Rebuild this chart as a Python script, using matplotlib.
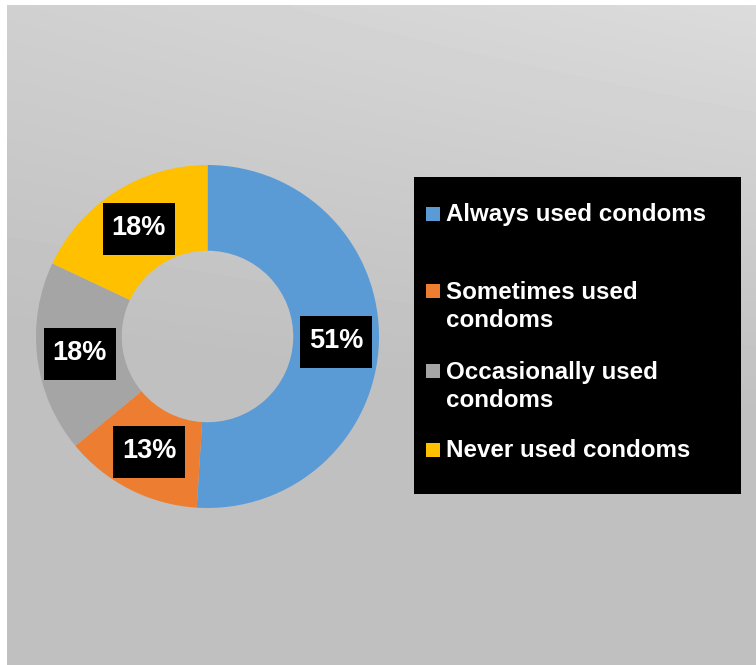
import numpy as np
import matplotlib
matplotlib.use('Agg')
import matplotlib.pyplot as plt
from matplotlib.patches import Rectangle

plt.rcParams['font.family'] = ['Liberation Sans', 'DejaVu Sans']

# данные
categories = ['Always used condoms', 'Sometimes used\ncondoms',
              'Occasionally used\ncondoms', 'Never used condoms']
shares = [51, 13, 18, 18]
colors = ['#5B9BD5', '#ED7D31', '#A5A5A5', '#FFC000']

W, H = 756, 665
fig = plt.figure(figsize=(W / 100, H / 100), dpi=100, facecolor='white')

# серый градиентный фон
bg = fig.add_axes([7 / W, 0, 1 - 7 / W, 1 - 5 / H])
yy, xx = np.mgrid[0:1:200j, 0:1:200j]
grad = np.clip(0.815 - 0.13 * yy + 0.045 * xx * (1 - yy), 0.753, 1)
bg.imshow(grad, cmap='gray', vmin=0, vmax=1, aspect='auto',
          extent=[0, 1, 0, 1], origin='upper', interpolation='bilinear')
bg.axis('off')

# кольцевая диаграмма
cx, cy, r = 207.5, 336.5, 171.5
ax = fig.add_axes([(cx - r) / W, (H - cy - r) / H, 2 * r / W, 2 * r / H])
wedges, texts, autotexts = ax.pie(
    shares, colors=colors, startangle=90, counterclock=False,
    wedgeprops=dict(width=0.5, linewidth=0), autopct='%d%%', pctdistance=0.75,
    textprops=dict(color='white', fontsize=19.5, fontweight='bold'))
ax.set_xlim(-1, 1)
ax.set_ylim(-1, 1)
ax.axis('off')

# чёрные подложки под подписями
fig.canvas.draw()
inv = ax.transAxes.inverted()
for t in autotexts:
    bb = t.get_window_extent()
    mx, my = (bb.x0 + bb.x1) / 2, (bb.y0 + bb.y1) / 2
    p0 = inv.transform((mx - 36, my - 27))
    p1 = inv.transform((mx + 36, my + 25))
    ax.add_patch(Rectangle(p0, p1[0] - p0[0], p1[1] - p0[1], transform=ax.transAxes,
                           facecolor='black', edgecolor='none', zorder=2.5))
    t.set_zorder(3)

# легенда вручную
fig.patches.append(Rectangle((414 / W, 1 - 494 / H), (741 - 414) / W, (494 - 177) / H,
                             transform=fig.transFigure, facecolor='black',
                             edgecolor='none', zorder=1))
baselines = [221, 298, 378, 457]
line_gap = 29
for lab, col, y in zip(categories, colors, baselines):
    fig.patches.append(Rectangle((426 / W, 1 - y / H), 14 / W, 14 / H,
                                 transform=fig.transFigure, facecolor=col,
                                 edgecolor='none', zorder=2))
    # baseline у matplotlib берётся по последней строке
    y_last = y + line_gap * lab.count('\n')
    fig.text(446 / W, 1 - y_last / H, lab, color='white', fontsize=17.4,
             fontweight='bold', va='baseline', ha='left', linespacing=1.3, zorder=3)

fig.savefig('out.png', dpi=100, facecolor=fig.get_facecolor())
